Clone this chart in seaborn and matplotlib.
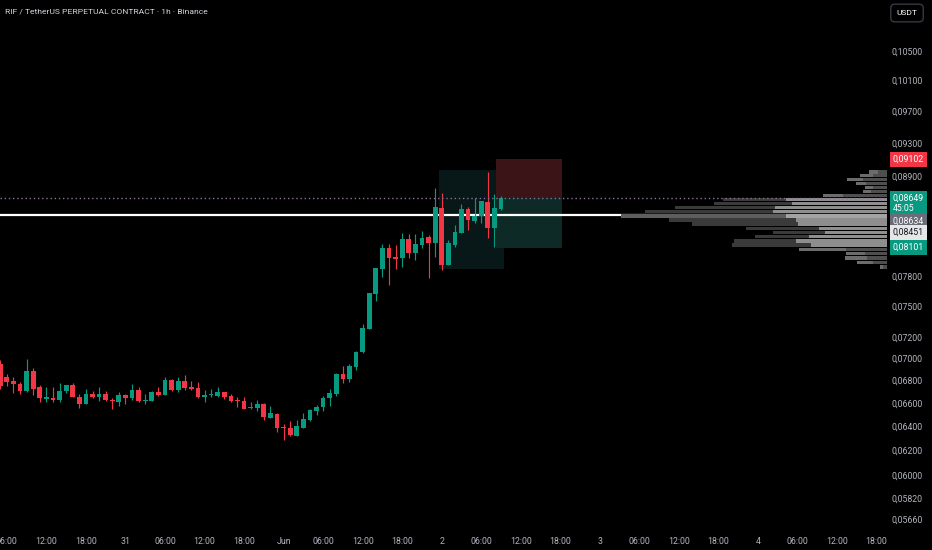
import numpy as np
import pandas as pd
import matplotlib.pyplot as plt
import matplotlib.dates as mdates
import seaborn as sns

# hourly candles, RIFUSDT perp, 30 May 05:00 -> 2 Jun 09:00
times = pd.date_range("2025-05-30 05:00", periods=77, freq="h")
opens = [0.06945, 0.06830, 0.06791, 0.06767, 0.06704, 0.06884, 0.06735, 0.06632, 0.06641, 0.06624,
         0.06704, 0.06756, 0.06652, 0.06591, 0.06678, 0.06652, 0.06678, 0.06624, 0.06609, 0.06667,
         0.06644, 0.06711, 0.06615, 0.06617, 0.06696, 0.06667, 0.06803, 0.06708, 0.06791, 0.06738,
         0.06726, 0.06650, 0.06667, 0.06661, 0.06691, 0.06656, 0.06626, 0.06615, 0.06551, 0.06551,
         0.06591, 0.06470, 0.06504, 0.06392, 0.06386, 0.06318, 0.06386, 0.06451, 0.06528, 0.06560,
         0.06638, 0.06678, 0.06854, 0.06809, 0.06918, 0.07054, 0.07277, 0.07614, 0.07876, 0.08098,
         0.08003, 0.07986, 0.08189, 0.08039, 0.08131, 0.08211, 0.08152, 0.08534, 0.07919, 0.08128,
         0.08260, 0.08520, 0.08392, 0.08444, 0.08606, 0.08308, 0.08526]
highs = [0.06982, 0.06854, 0.06827, 0.06780, 0.06989, 0.06908, 0.06756, 0.06740, 0.06737, 0.06774,
         0.06756, 0.06771, 0.06673, 0.06720, 0.06699, 0.06735, 0.06704, 0.06644, 0.06691, 0.06673,
         0.06762, 0.06735, 0.06678, 0.06702, 0.06735, 0.06827, 0.06809, 0.06827, 0.06845, 0.06791,
         0.06780, 0.06713, 0.06720, 0.06737, 0.06696, 0.06678, 0.06650, 0.06650, 0.06603, 0.06626,
         0.06594, 0.06569, 0.06507, 0.06419, 0.06442, 0.06448, 0.06515, 0.06549, 0.06580, 0.06658,
         0.06717, 0.06861, 0.06930, 0.06948, 0.07068, 0.07322, 0.07627, 0.07883, 0.08137, 0.08137,
         0.08130, 0.08254, 0.08247, 0.08247, 0.08276, 0.08236, 0.08759, 0.08701, 0.08182, 0.08345,
         0.08576, 0.08542, 0.08651, 0.08617, 0.08952, 0.08690, 0.08670]
lows = [0.06720, 0.06747, 0.06687, 0.06676, 0.06691, 0.06670, 0.06609, 0.06609, 0.06609, 0.06609,
        0.06687, 0.06647, 0.06556, 0.06588, 0.06644, 0.06617, 0.06615, 0.06543, 0.06574, 0.06586,
        0.06624, 0.06603, 0.06586, 0.06615, 0.06661, 0.06664, 0.06702, 0.06691, 0.06708, 0.06708,
        0.06644, 0.06609, 0.06650, 0.06650, 0.06632, 0.06603, 0.06563, 0.06542, 0.06545, 0.06528,
        0.06453, 0.06468, 0.06352, 0.06284, 0.06318, 0.06315, 0.06383, 0.06440, 0.06493, 0.06530,
        0.06574, 0.06658, 0.06776, 0.06785, 0.06893, 0.07050, 0.07275, 0.07550, 0.07794, 0.07711,
        0.07874, 0.07899, 0.07993, 0.07968, 0.08091, 0.07784, 0.08003, 0.07862, 0.07915, 0.08109,
        0.08254, 0.08290, 0.08363, 0.08363, 0.08200, 0.08110, 0.08511]
closes = [0.06747, 0.06785, 0.06762, 0.06704, 0.06884, 0.06722, 0.06638, 0.06647, 0.06624, 0.06702,
          0.06756, 0.06652, 0.06591, 0.06678, 0.06652, 0.06678, 0.06624, 0.06615, 0.06667, 0.06644,
          0.06708, 0.06617, 0.06624, 0.06696, 0.06667, 0.06803, 0.06708, 0.06791, 0.06726, 0.06720,
          0.06650, 0.06667, 0.06678, 0.06691, 0.06650, 0.06615, 0.06615, 0.06545, 0.06563, 0.06591,
          0.06476, 0.06510, 0.06381, 0.06381, 0.06324, 0.06403, 0.06463, 0.06536, 0.06563, 0.06644,
          0.06687, 0.06854, 0.06809, 0.06930, 0.07059, 0.07284, 0.07625, 0.07880, 0.08098, 0.07989,
          0.07982, 0.08189, 0.08039, 0.08135, 0.08203, 0.08152, 0.08542, 0.07919, 0.08146, 0.08265,
          0.08526, 0.08400, 0.08444, 0.08615, 0.08308, 0.08534, 0.08649]

# volume profile (top row first), total and right-hand part
vp_low, vp_high = 0.07875, 0.08973
vp_total = [18, 27, 40, 31, 22, 24, 64, 164, 173, 212, 242, 266, 218, 195, 141, 114, 132, 153, 155, 88, 41, 42, 30, 7]
vp_right = [9, 14, 24, 21, 14, 16, 44, 101, 95, 112, 114, 101, 91, 89, 68, 62, 78, 91, 76, 41, 22, 20, 14, 4]

# price levels
last_price = 0.08649
hline_price = 0.08451
stop_price = 0.09102
target_price = 0.08101
box_low, box_high = 0.07874, 0.08973

ytick_values = [0.105, 0.101, 0.097, 0.093, 0.089, 0.078, 0.075, 0.072, 0.070, 0.068, 0.066, 0.064, 0.062, 0.060, 0.0582, 0.0566]
ytick_labels = ["0,10500", "0,10100", "0,09700", "0,09300", "0,08900", "0,07800", "0,07500", "0,07200", "0,07000",
                "0,06800", "0,06600", "0,06400", "0,06200", "0,06000", "0,05820", "0,05660"]
xtick_times = pd.date_range("2025-05-30 06:00", periods=23, freq="6h")
xtick_labels = ["06:00", "12:00", "18:00", "31", "06:00", "12:00", "18:00", "Jun", "06:00", "12:00", "18:00",
                "2", "06:00", "12:00", "18:00", "3", "06:00", "12:00", "18:00", "4", "06:00", "12:00", "18:00"]

GREEN = "#089981"
RED = "#f23645"
TXT = "#b2b5be"

sns.set_theme(style="dark", rc={"axes.facecolor": "black", "figure.facecolor": "black",
                                "axes.grid": False})
plt.rcParams["font.family"] = ["Roboto", "DejaVu Sans"]

fig = plt.figure(figsize=(9.32, 5.5), dpi=100)
ax = fig.add_axes([0, 20 / 550, 887 / 932, 530 / 550])
ax.set_yscale("log")

ref = pd.Timestamp("2025-06-02 00:00")
hr = pd.Timedelta(hours=1)
x = mdates.date2num(times)
w = 0.72 / 24

o = np.array(opens); h = np.array(highs); l = np.array(lows); c = np.array(closes)
up = c >= o
cols = np.where(up, GREEN, RED)

# drawn zones
def tspan(a, b):
    return mdates.date2num([ref + a * hr, ref + b * hr])

ax.fill_between(tspan(-0.41, 9.46), box_low, box_high, color="#081717", lw=0, zorder=1)
ax.fill_between(tspan(8.17, 18.2), last_price, stop_price, color="#3b1418", lw=0, zorder=1.2)
ax.fill_between(tspan(8.17, 18.2), target_price, last_price, color="#0d2a27", lw=0, zorder=1.2)

ax.axhline(hline_price, color="white", lw=1.6, zorder=2)

# candles
ax.vlines(x, l, h, colors=cols, lw=0.85, zorder=3)
body_lo = np.minimum(o, c)
body_h = np.maximum(np.abs(c - o), 0.00005)
ax.bar(x, body_h, bottom=body_lo, width=w, color=cols, lw=0, zorder=4)

ax.set_xlim(mdates.date2num(ref - 67.04 * hr), mdates.date2num(ref + 67.58 * hr))
ax.set_ylim(0.05579, 0.11232)

ax.yaxis.tick_right()
ax.yaxis.set_minor_locator(plt.NullLocator())
ax.set_yticks(ytick_values)
ax.set_yticklabels(ytick_labels)
ax.set_xticks(mdates.date2num(xtick_times))
ax.set_xticklabels(xtick_labels)
ax.tick_params(axis="both", length=0, labelsize=6.3, colors=TXT)
ax.tick_params(axis="y", pad=3.5)
ax.tick_params(axis="x", pad=5)
sns.despine(ax=ax, left=True, bottom=True, right=True, top=True)

# volume profile on a twin x axis, anchored at the right edge
ax2 = ax.twiny()
ax2.set_xlim(887, 0)
n = len(vp_total)
step = (vp_high - vp_low) / n
centers = vp_high - step * (np.arange(n) + 0.5)
for i in range(n):
    in_va = 7 <= i <= 18
    if i == 11:
        left_c, right_c = "#5e5e5e", "#a3a3a3"
    elif in_va:
        left_c, right_c = "#3a3a3a", "#8e8e8e"
    else:
        left_c, right_c = "#6c6c6c", "#4e4e4e"
    ax2.barh(centers[i], vp_right[i], left=0, height=step * 0.82, color=right_c, lw=0)
    ax2.barh(centers[i], vp_total[i] - vp_right[i], left=vp_right[i], height=step * 0.82, color=left_c, lw=0)
ax2.axhline(last_price, color="#8a6e9c", lw=1, ls=(0, (1, 2)))
ax2.set_xticks([])
sns.despine(ax=ax2, left=True, bottom=True, right=True, top=True)
ax.set_ylim(0.05579, 0.11232)

# price badges on the right scale
def badge(price, text, fc, tc, dy=0):
    ax.annotate(text, xy=(1, price), xycoords=("axes fraction", "data"),
                xytext=(4.2, dy), textcoords="offset points", ha="left", va="center",
                fontsize=6.3, color=tc, annotation_clip=False, linespacing=1.15,
                bbox=dict(boxstyle="square,pad=0.32", fc=fc, ec="none"))

badge(stop_price, "0,09102", RED, "white")
badge(last_price, "0,08649\n45:05", GREEN, "white", dy=-3.8)
badge(0.08634, "0,08634", "#6a6d78", "white", dy=-15.5)
badge(hline_price, "0,08451", "#e6e6e6", "#131722", dy=-12.3)
badge(target_price, "0,08101", GREEN, "white")

fig.text(5 / 932, 1 - 11 / 550, "RIF / TetherUS PERPETUAL CONTRACT · 1h · Binance",
         color="#d1d4dc", fontsize=6.1, va="center", ha="left")
fig.text(907 / 932, 1 - 13 / 550, "USDT", color="white", fontsize=6, va="center", ha="center",
         bbox=dict(boxstyle="round,pad=0.7,rounding_size=0.5", fc="black", ec="#363a45", lw=1))

fig.savefig("out.png", dpi=100, facecolor="black")
